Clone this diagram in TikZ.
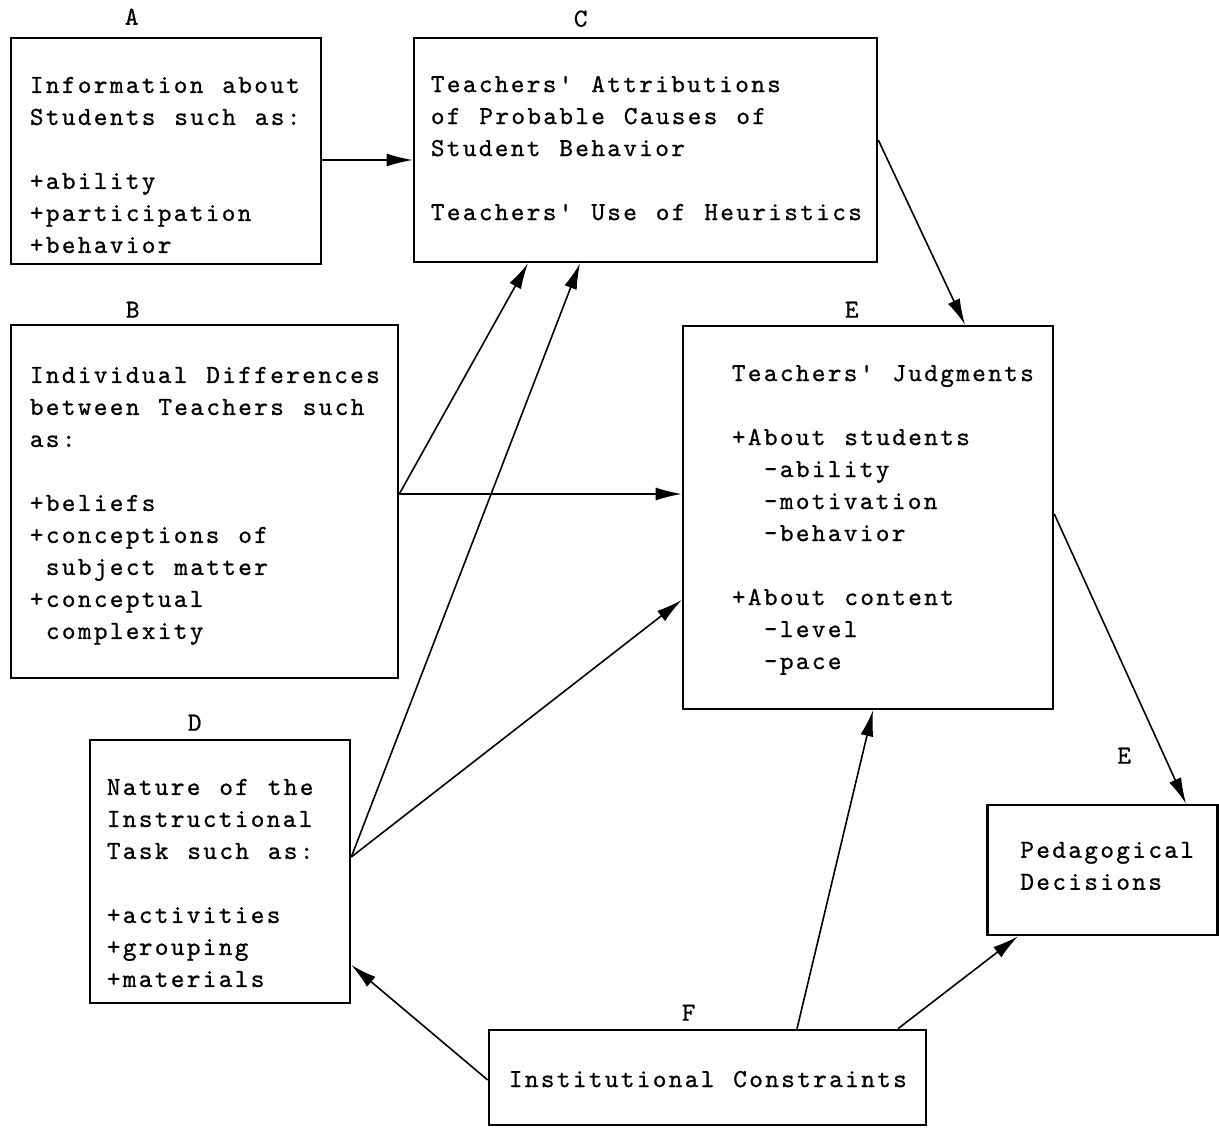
\documentclass[tikz,border=0pt]{standalone}
\usepackage{fontspec}
\usetikzlibrary{arrows.meta}

\newfontfamily\twfont{lmmono10-regular}[Extension=.otf, LetterSpace=9, WordSpace=1.18, FakeBold=0.8]
\newcommand{\tw}{\fontsize{26}{32}\selectfont\twfont}

\tikzset{
  box/.style={draw, line width=2.6pt, inner sep=0pt},
  txt/.style={anchor=north west, inner sep=0pt, align=left, font=\tw},
  lbl/.style={inner sep=0pt, font=\tw},
  arr/.style={-{Latex[length=26pt,width=13pt]}, line width=1.6pt}
}

\begin{document}
\begin{tikzpicture}[x=1pt,y=1pt]
  \useasboundingbox (0,0) rectangle (1219,1128);

  % boxes
  \node[box, minimum width=310pt, minimum height=226pt] (A) at (166,977) {};
  \node[box, minimum width=463pt, minimum height=224pt] (C) at (645.5,978) {};
  \node[box, minimum width=387pt, minimum height=353pt] (B) at (204.5,626.5) {};
  \node[box, minimum width=370pt, minimum height=383pt] (E) at (868,610.5) {};
  \node[box, minimum width=260pt, minimum height=263pt] (D) at (220,256.5) {};
  \node[box, minimum width=230pt, minimum height=130pt] (P) at (1102.5,258) {};
  \node[box, minimum width=437pt, minimum height=95pt] (F) at (707.5,50.5) {};

  % letters over the boxes
  \node[lbl] (labA) at ([xshift=122pt,yshift=20pt]A.north west) {A};
  \node[lbl] (labC) at ([xshift=168pt,yshift=18pt]C.north west) {C};
  \node[lbl] (labB) at ([xshift=123pt,yshift=14pt]B.north west) {B};
  \node[lbl] (labE) at ([xshift=170pt,yshift=15pt]E.north west) {E};
  \node[lbl] (labD) at ([xshift=106pt,yshift=16pt]D.north west) {D};
  \node[lbl] (labP) at ([xshift=138pt,yshift=48pt]P.north west) {E};
  \node[lbl] (labF) at ([xshift=201pt,yshift=16pt]F.north west) {F};

  % texts
  \node[txt] (textA) at ([xshift=20pt,yshift=-40pt]A.north west)
    {Information about\\Students such as:\\[32pt]+ability\\+participation\\+behavior};
  \node[txt] (textC) at ([xshift=18pt,yshift=-39pt]C.north west)
    {Teachers' Attributions\\of Probable Causes of\\Student Behavior\\[32pt]Teachers' Use of Heuristics};
  \node[txt] (textB) at ([xshift=20pt,yshift=-43pt]B.north west)
    {Individual Differences\\between Teachers such\\as:\\[32pt]+beliefs\\+conceptions of\\\hspace*{16pt}subject matter\\+conceptual\\\hspace*{16pt}complexity};
  \node[txt] (textE) at ([xshift=50pt,yshift=-40pt]E.north west)
    {Teachers' Judgments\\[32pt]+About students\\\hspace*{32pt}-ability\\\hspace*{32pt}-motivation\\\hspace*{32pt}-behavior\\[32pt]+About content\\\hspace*{32pt}-level\\\hspace*{32pt}-pace};
  \node[txt] (textD) at ([xshift=18pt,yshift=-40pt]D.north west)
    {Nature of the\\Instructional\\Task such as:\\[32pt]+activities\\+grouping\\+materials};
  \node[txt] (textP) at ([xshift=34pt,yshift=-38pt]P.north west)
    {Pedagogical\\Decisions};
  \node[txt] (textF) at ([xshift=21pt,yshift=-42pt]F.north west)
    {Institutional Constraints};

  % connectors
  \draw[arr] ([yshift=-9pt]A.east) -- ([yshift=-9pt]A.east -| C.west);
  \draw[arr] ([yshift=10pt]C.east) -- ([xshift=97pt]E.north);
  \draw[arr] ([yshift=7.5pt]B.east) -- ([xshift=-117.5pt]C.south);
  \draw[arr] ([yshift=7.5pt]B.east) -- ([yshift=7.5pt]B.east -| E.west);
  \draw[arr] ([yshift=14.5pt]D.east) -- ([xshift=-65.5pt]C.south);
  \draw[arr] ([yshift=14.5pt]D.east) -- ([yshift=-82.5pt]E.west);
  \draw[arr] ([yshift=3.5pt]E.east) -- ([xshift=83.5pt]P.north);
  \draw[arr] ([yshift=-2.5pt]F.west) -- ([yshift=-93.5pt]D.east);
  \draw[arr] ([xshift=89.5pt]F.north) -- ([xshift=5pt]E.south);
  \draw[arr] ([xshift=190.5pt]F.north) -- ([xshift=-84.5pt]P.south);
\end{tikzpicture}
\end{document}
